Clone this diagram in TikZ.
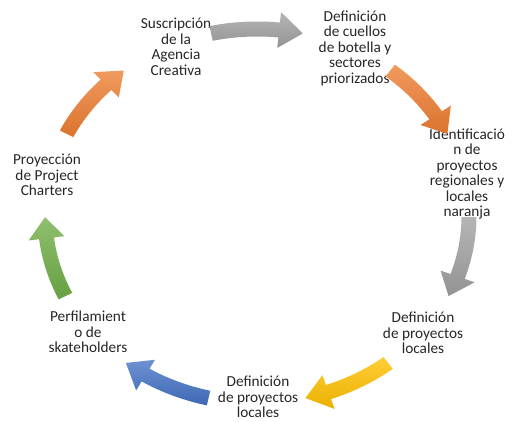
\documentclass[tikz,border=0pt]{standalone}
\usepackage{fontspec}
\setmainfont{Carlito}
\definecolor{txt}{HTML}{262626}
\definecolor{cgray}{HTML}{A0A0A0}
\definecolor{corange}{HTML}{ED7D31}
\definecolor{cgold}{HTML}{FFC000}
\definecolor{cblue}{HTML}{4472C4}
\definecolor{cgreen}{HTML}{70AD47}
\newcommand\cycarrow[2]{%
  \shade[top color=#2!78!white, bottom color=#2!92!black]
    ({257+219.5*cos(#1+12.5)},{205+194.5*sin(#1+12.5)})
    arc[start angle={#1+12.5}, end angle={#1-6}, x radius=219.5, y radius=194.5]
    -- ({257+230*cos(#1-6)},{205+205*sin(#1-6)})
    -- ({257+212*cos(#1-12.5)},{205+187*sin(#1-12.5)})
    -- ({257+194*cos(#1-6)},{205+169*sin(#1-6)})
    -- ({257+204.5*cos(#1-6)},{205+179.5*sin(#1-6)})
    arc[start angle={#1-6}, end angle={#1+12.5}, x radius=204.5, y radius=179.5]
    -- cycle;}
\begin{document}
\begin{tikzpicture}[x=1pt,y=1pt,
  lbl/.style={align=center, text=txt, font=\fontsize{15.3}{15.5}\selectfont, inner sep=0pt}]
\useasboundingbox (0,0) rectangle (513,421);
\node[lbl] (n1) at (176,374) {Suscripción\\de la\\Agencia\\Creativa};
\node[lbl] (n2) at (355,373) {Definición\\de cuellos\\de botella y\\sectores\\priorizados};
\node[lbl] (n3) at (467,247) {Identificació\\n de\\proyectos\\regionales y\\locales\\naranja};
\node[lbl] (n4) at (423,88) {Definición\\de proyectos\\locales};
\node[lbl] (n5) at (258,24) {Definición\\de proyectos\\locales};
\node[lbl] (n6) at (88,89) {Perfilamient\\o de\\skateholders};
\node[lbl] (n7) at (47,246) {Proyección\\de Project\\Charters};
\cycarrow{90}{cgray}
\cycarrow{38.57}{corange}
\cycarrow{-12.86}{cgray}
\cycarrow{-64.29}{cgold}
\cycarrow{-115.71}{cblue}
\cycarrow{-167.14}{cgreen}
\cycarrow{141.43}{corange}
\end{tikzpicture}
\end{document}
